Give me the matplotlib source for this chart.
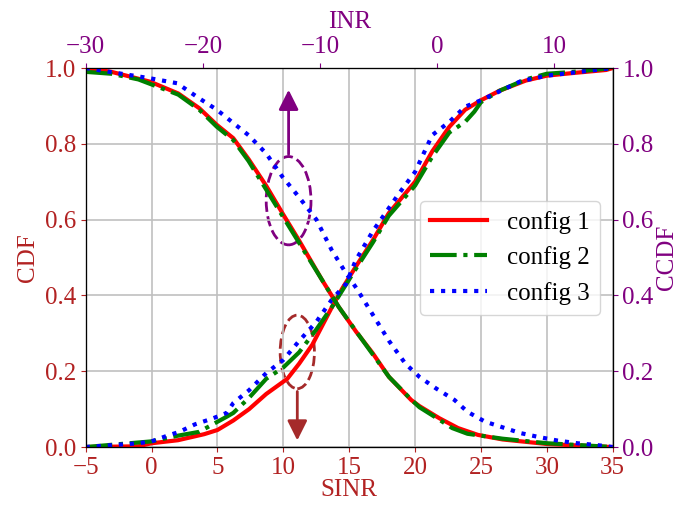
import matplotlib
matplotlib.use("Agg")
import matplotlib.pyplot as plt
from matplotlib.patches import Ellipse

plt.rcParams['font.family'] = ['Liberation Serif', 'DejaVu Serif']
plt.rcParams['font.size'] = 18
plt.rcParams['mathtext.fontset'] = 'stix'

# CDF of SINR (bottom / left axes)
sinr_c1 = [-5, -1, 0, 2, 4, 5, 6.2, 7.4, 8.7, 10.3, 11.2, 12.2, 13.7, 14.5, 15.5, 16.8,
           18, 18.8, 20, 21.3, 22.6, 23.8, 25, 26.4, 28.4, 30, 32, 34.5, 35]
cdf_c1 = [0, 0.002, 0.01, 0.018, 0.034, 0.045, 0.07, 0.10, 0.14, 0.18, 0.22, 0.27, 0.37, 0.42,
          0.476, 0.546, 0.617, 0.65, 0.70, 0.78, 0.845, 0.89, 0.915, 0.94, 0.967, 0.98, 0.987, 0.995, 1.0]

sinr_c2 = [-5, 0, 2, 3.6, 5.7, 6.2, 7.4, 8.7, 10, 11.2, 12.5, 13.7, 15.5, 16.8, 18, 20,
           21.3, 22.6, 23.8, 24.5, 25, 26.4, 28.4, 30, 32, 35]
cdf_c2 = [0, 0.015, 0.03, 0.04, 0.08, 0.09, 0.13, 0.18, 0.21, 0.25, 0.31, 0.37, 0.47, 0.54,
          0.61, 0.69, 0.766, 0.83, 0.858, 0.885, 0.91, 0.94, 0.97, 0.985, 0.99, 1.0]

sinr_c3 = [-5, -1, 0, 1.2, 2.1, 3.3, 4.6, 5.7, 6.2, 7.4, 8.7, 10, 11.2, 12.5, 13.7, 14.75,
           15.5, 16.8, 18.8, 20, 21.3, 22.6, 23.8, 25, 28, 30, 35]
cdf_c3 = [0, 0.01, 0.015, 0.03, 0.04, 0.06, 0.075, 0.09, 0.116, 0.15, 0.195, 0.23, 0.28, 0.33,
          0.39, 0.43, 0.493, 0.57, 0.67, 0.726, 0.823, 0.858, 0.898, 0.915, 0.965, 0.98, 1.0]

# CCDF of INR (top / right axes)
inr_c1 = [-30, -27.8, -24.5, -22.1, -20.3, -18.8, -17.4, -16.1, -14.6, -13.2, -11.8, -9.8,
          -8.4, -6.9, -5.5, -4.1, -2.2, -1.5, 0.2, 1.8, 3.5, 5.6, 9.4, 12.8, 15]
ccdf_c1 = [1.0, 0.99, 0.964, 0.933, 0.894, 0.85, 0.815, 0.76, 0.69, 0.617, 0.546, 0.44,
           0.37, 0.304, 0.248, 0.185, 0.124, 0.108, 0.076, 0.05, 0.032, 0.02, 0.008, 0.003, 0.0]

inr_c2 = [-30, -27.8, -25.5, -22.1, -20.3, -18.8, -17.4, -16.1, -14.6, -13.2, -11.8, -9.8,
          -8.4, -6.9, -5.5, -4.1, -2.2, -1.5, 0.2, 1.3, 2.6, 5.6, 9.4, 12.8, 15]
ccdf_c2 = [0.99, 0.985, 0.97, 0.93, 0.89, 0.845, 0.81, 0.755, 0.68, 0.61, 0.54, 0.44,
           0.37, 0.305, 0.245, 0.185, 0.125, 0.105, 0.072, 0.05, 0.035, 0.022, 0.01, 0.004, 0.0]

inr_c3 = [-30, -24.5, -22.2, -20.3, -18.8, -17.4, -16.1, -14.6, -13.2, -11.8, -10.3, -9.0,
          -7.8, -6.9, -5.5, -4.1, -2.7, -1.5, -0.1, 1.5, 2.6, 4.1, 5.8, 7.1, 8.6, 10.3,
          12.0, 13.7, 15]
ccdf_c3 = [1.0, 0.973, 0.96, 0.92, 0.89, 0.855, 0.823, 0.775, 0.713, 0.66, 0.60, 0.52,
           0.46, 0.42, 0.35, 0.28, 0.22, 0.185, 0.155, 0.124, 0.093, 0.067, 0.05, 0.037,
           0.027, 0.017, 0.01, 0.005, 0.0]

labels = ['config 1', 'config 2', 'config 3']
left_col = 'firebrick'
right_col = 'purple'

fig = plt.figure(figsize=(6.97, 5.08), dpi=100)
ax = fig.add_axes([0.123, 0.12, 0.756, 0.746])
ax_r = ax.twinx()
ax_t = ax_r.twiny()

l1, = ax.plot(sinr_c1, cdf_c1, 'r-', lw=3, label=labels[0])
l2, = ax.plot(sinr_c2, cdf_c2, 'g-.', lw=3, label=labels[1])
l3, = ax.plot(sinr_c3, cdf_c3, 'b:', lw=3, label=labels[2])
ax_t.plot(inr_c1, ccdf_c1, 'r-', lw=3)
ax_t.plot(inr_c2, ccdf_c2, 'g-.', lw=3)
ax_t.plot(inr_c3, ccdf_c3, 'b:', lw=3)

ax.set_xlim(-5, 35)
ax.set_ylim(0, 1)
ax_r.set_ylim(0, 1)
ax_t.set_xlim(-30, 15)
ax_t.set_xticks([-30, -20, -10, 0, 10])
ax.set_xticks(range(-5, 36, 5))

ax.grid(True, color='#c0c0c0', lw=1.2)

ax.set_xlabel('SINR', color=left_col, labelpad=0)
ax.set_ylabel('CDF', color=left_col)
ax_r.set_ylabel('CCDF', color=right_col, labelpad=2)
ax_t.set_xlabel('INR', color=right_col, labelpad=6)
ax.tick_params(axis='both', colors=left_col)
ax_r.tick_params(axis='y', colors=right_col)
ax_t.tick_params(axis='x', colors=right_col)
for a in (ax, ax_r, ax_t):
    for s in a.spines.values():
        s.set_color('black')

# ellipses and arrows marking the two groups of curves
ax.add_patch(Ellipse((10.4, 0.65), 3.4, 0.233, fill=False, ls='--', lw=2, ec=right_col))
ax.annotate('', xy=(10.4, 0.95), xytext=(10.4, 0.765),
            arrowprops=dict(arrowstyle='-|>', color=right_col, lw=2, mutation_scale=30))
ax.add_patch(Ellipse((11.06, 0.251), 2.6, 0.194, fill=False, ls='--', lw=2, ec='brown'))
ax.annotate('', xy=(11.06, 0.01), xytext=(11.06, 0.154),
            arrowprops=dict(arrowstyle='-|>', color='brown', lw=2, mutation_scale=30))

ax_t.legend([l1, l2, l3], labels, loc='center right', fontsize=18, handlelength=2.3)

fig.savefig('out.png', dpi=100)
